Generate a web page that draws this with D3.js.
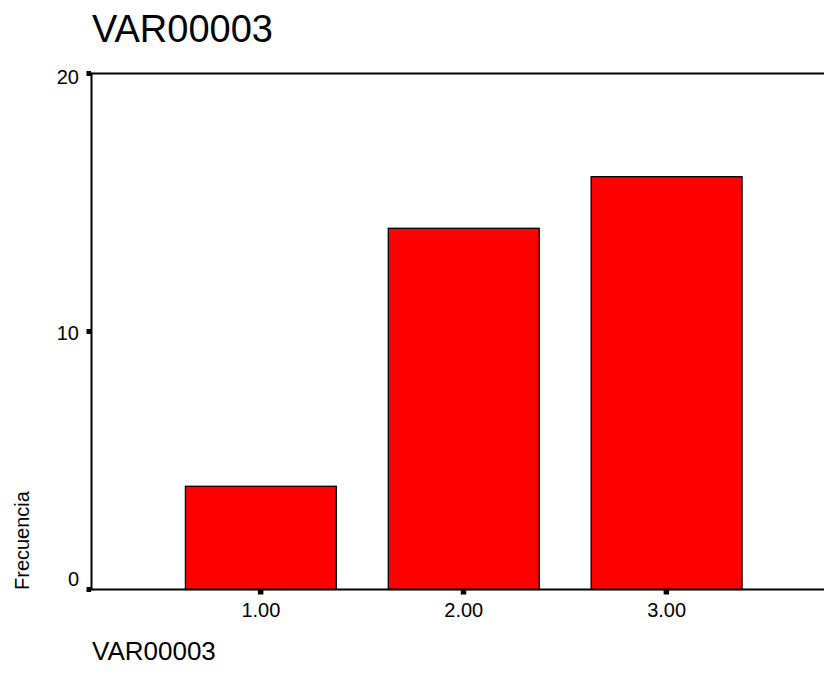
<!DOCTYPE html>
<html><head><meta charset="utf-8">
<script src="https://cdn.jsdelivr.net/npm/d3@7"></script>
<style>
html,body{margin:0;padding:0;background:#fff;overflow:hidden;}
svg{display:block;font-family:"Liberation Sans",Arial,Helvetica,sans-serif;}
</style></head>
<body>
<script>
const categories = ["1.00", "2.00", "3.00"];
const frequencies = [4, 14, 16];
const yTicks = [0, 10, 20];
const chartTitle = "VAR00003";
const xTitle = "VAR00003";
const yTitle = "Frecuencia";

const W = 824, H = 691;
const L = 91.5, R = 836, T = 73.5, B = 589.5;

const svg = d3.select("body").append("svg").attr("width", W).attr("height", H);

const x = d3.scaleBand().domain(categories).range([L, R]).paddingInner(0.256).paddingOuter(0.463);
const y = d3.scaleLinear().domain([0, 20]).range([B, T]);

// bars
svg.append("g").selectAll("rect").data(frequencies).join("rect")
  .attr("x", (d, i) => x(categories[i]))
  .attr("y", d => y(d))
  .attr("width", x.bandwidth())
  .attr("height", d => y(0) - y(d))
  .attr("fill", "#ff0000")
  .attr("stroke", "#000")
  .attr("stroke-width", 1.3);

// frame: top, left, bottom
svg.append("line").attr("x1", L).attr("x2", R).attr("y1", T).attr("y2", T).attr("stroke", "#000").attr("stroke-width", 2);
svg.append("line").attr("x1", L).attr("x2", L).attr("y1", T - 1).attr("y2", B + 1).attr("stroke", "#000").attr("stroke-width", 2);
svg.append("line").attr("x1", L).attr("x2", R).attr("y1", B).attr("y2", B).attr("stroke", "#000").attr("stroke-width", 2);

// y ticks
const yAxis = svg.append("g");
yTicks.forEach((t, i) => {
  const yy = y(t);
  yAxis.append("rect").attr("x", L - 5).attr("y", yy - 2.5).attr("width", 4.5).attr("height", 5).attr("fill", "#000");
  let dy;
  if (i === 0) dy = -4; else if (i === yTicks.length - 1) dy = 10; else dy = 8;
  yAxis.append("text").attr("x", 79).attr("y", yy + dy)
    .attr("text-anchor", "end").attr("font-size", 20).attr("fill", "#000").text(t);
});

// x ticks
const xAxis = svg.append("g");
categories.forEach(c => {
  const cx = x(c) + x.bandwidth() / 2;
  xAxis.append("rect").attr("x", cx - 3).attr("y", B + 0.5).attr("width", 5.5).attr("height", 4.5).attr("fill", "#000");
  xAxis.append("text").attr("x", cx).attr("y", 617).attr("text-anchor", "middle")
    .attr("font-size", 20).attr("fill", "#000").text(c);
});

// titles
svg.append("text").attr("x", 92).attr("y", 42).attr("font-size", 38).attr("fill", "#000").text(chartTitle);
svg.append("text").attr("x", 92).attr("y", 660).attr("font-size", 26).attr("fill", "#000").text(xTitle);
svg.append("text").attr("transform", "translate(29,590) rotate(-90)").attr("font-size", 20).attr("fill", "#000").text(yTitle);
</script>
</body></html>
